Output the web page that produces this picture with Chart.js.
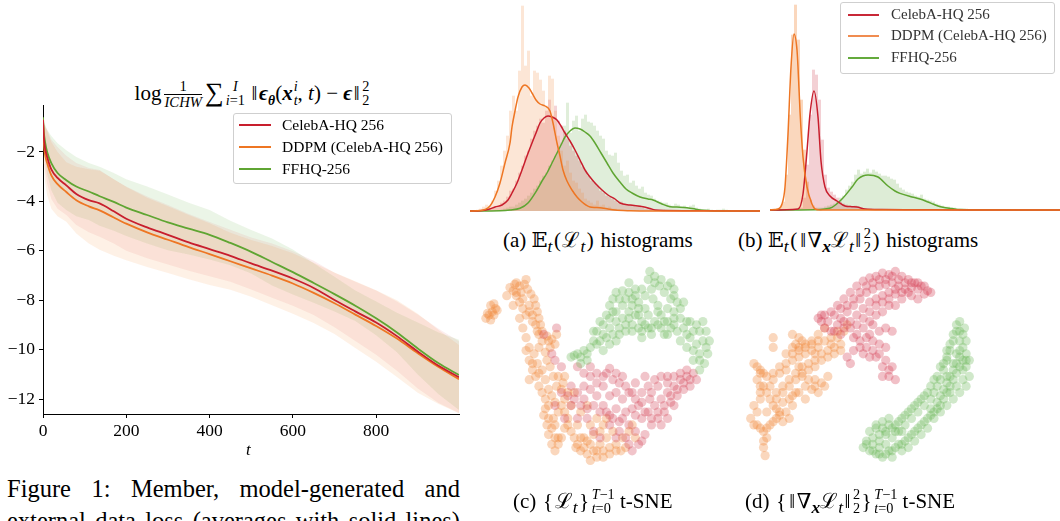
<!DOCTYPE html>
<html>
<head>
<meta charset="utf-8">
<script src="https://cdn.jsdelivr.net/npm/chart.js@4.4.1/dist/chart.umd.min.js"></script>
<style>
  body { margin: 0; width: 1060px; height: 521px; overflow: hidden; background: #fff; position: relative;
         font-family: "Liberation Serif", "DejaVu Serif", serif; color: #000; }
  canvas { position: absolute; }
  .abs { position: absolute; white-space: nowrap; }
  .ss { display: inline-flex; flex-direction: column; vertical-align: 0.6em; font-size: 0.68em; line-height: 0.95; margin-left: 1px; }
  .frac { display: inline-flex; flex-direction: column; vertical-align: 0.62em; font-size: 0.7em; line-height: 1.05; text-align: center; margin: 0 3px; }
  .frac > span:first-child { border-bottom: 1px solid #000; }
  .big { font-size: 1.25em; vertical-align: -0.05em; margin-right: 1px; }
  .m { margin: 0 1.5px; }
  .legend { position: absolute; border: 1px solid #cfcfcf; border-radius: 3px; background: rgba(255,255,255,0.85); }
  .legend .row { position: absolute; white-space: nowrap; }
  .legend .sw { position: absolute; height: 2px; }
  .cap { position: absolute; white-space: nowrap; font-size: 21px; }
  .fig { position: absolute; left: 7px; width: 453px; font-size: 24.5px; line-height: 1; text-align: justify; text-align-last: justify; white-space: nowrap; }
</style>
</head>
<body>

<div class="abs" style="left:0;width:504px;text-align:center;top:78px;font-size:21px">
  log<span class="frac"><span>1</span><span><i>ICHW</i></span></span><span class="big">∑</span><span class="ss"><span><i>I</i></span><span><i>i</i>=1</span></span>
  <span class="m">‖</span><b><i>ϵ</i></b><sub style="font-size:0.65em"><b><i>θ</i></b></sub>(<b><i>x</i></b><span class="ss"><span><i>i</i></span><span><i>t</i></span></span>, <i>t</i>) − <b><i>ϵ</i></b><span class="m">‖</span><span class="ss"><span>2</span><span>2</span></span>
</div>

<canvas id="lossChart" width="470" height="350" style="left:0;top:95px"></canvas>
<div class="abs" style="left:246px;top:440px;font-size:17px"><i>t</i></div>

<div class="legend" style="left:233px;top:113px;width:217px;height:69px;font-size:15.5px">
  <div class="sw" style="left:5px;top:10px;width:32px;background:rgb(200,30,45)"></div>
  <div class="row" style="left:48px;top:2px">CelebA-HQ 256</div>
  <div class="sw" style="left:5px;top:32px;width:32px;background:rgb(238,118,35)"></div>
  <div class="row" style="left:48px;top:24px">DDPM (CelebA-HQ 256)</div>
  <div class="sw" style="left:5px;top:54px;width:32px;background:rgb(95,165,50)"></div>
  <div class="row" style="left:48px;top:46px">FFHQ-256</div>
</div>

<canvas id="histA" width="290" height="215" style="left:470px;top:0"></canvas>
<canvas id="histB" width="290" height="214" style="left:770px;top:0"></canvas>

<div class="legend" style="left:840px;top:2px;width:213px;height:70px;font-size:15px;color:#333">
  <div class="sw" style="left:7px;top:11px;width:31px;background:rgb(200,40,55)"></div>
  <div class="row" style="left:50px;top:3px">CelebA-HQ 256</div>
  <div class="sw" style="left:7px;top:32px;width:31px;background:rgb(240,140,80)"></div>
  <div class="row" style="left:50px;top:24px">DDPM (CelebA-HQ 256)</div>
  <div class="sw" style="left:7px;top:54px;width:31px;background:rgb(100,170,60)"></div>
  <div class="row" style="left:50px;top:46px">FFHQ-256</div>
</div>

<div class="cap" style="left:503px;top:225px">(a) 𝔼<sub><i>t</i></sub><span class="m">(</span>ℒ<sub><i>t</i></sub><span class="m">)</span> histograms</div>
<div class="cap" style="left:738px;top:225px">(b) 𝔼<sub><i>t</i></sub><span class="m">(</span><span class="m">‖</span>∇<sub><b><i>x</i></b></sub>ℒ<sub><i>t</i></sub><span class="m">‖</span><span class="ss"><span>2</span><span>2</span></span><span class="m">)</span> histograms</div>

<canvas id="tsneC" width="260" height="300" style="left:470px;top:220px"></canvas>
<canvas id="tsneD" width="260" height="300" style="left:730px;top:220px"></canvas>

<div class="cap" style="left:513px;top:486px">(c) <span class="m">{</span>ℒ<sub><i>t</i></sub><span class="m">}</span><span class="ss"><span><i>T</i>−1</span><span><i>t</i>=0</span></span> t-SNE</div>
<div class="cap" style="left:745px;top:486px">(d) <span class="m">{</span><span class="m">‖</span>∇<sub><b><i>x</i></b></sub>ℒ<sub><i>t</i></sub><span class="m">‖</span><span class="ss"><span>2</span><span>2</span></span><span class="m">}</span><span class="ss"><span><i>T</i>−1</span><span><i>t</i>=0</span></span> t-SNE</div>

<div class="fig" style="top:477px">Figure 1: Member, model-generated and</div>
<div class="fig" style="top:509px">external data loss (averages with solid lines)</div>

<script>
// --- loss curves over diffusion step t ---
const steps = [0, 2, 5, 10, 20, 35, 56, 80, 110, 136, 170, 200, 250, 300, 350, 400, 450, 500, 550, 600, 650, 700, 750, 800, 850, 900, 950, 999];
const celebaMean = [-0.7, -1.4, -1.85, -2.2, -2.7, -3.05, -3.35, -3.7, -3.95, -4.08, -4.4, -4.7, -5.05, -5.35, -5.66, -5.93, -6.2, -6.51, -6.8, -7.12, -7.5, -7.99, -8.45, -8.9, -9.45, -10.07, -10.65, -11.11];
const ddpmMean = [-0.7, -1.6, -2.1, -2.45, -2.95, -3.3, -3.62, -3.95, -4.2, -4.36, -4.65, -4.9, -5.25, -5.55, -5.85, -6.13, -6.42, -6.71, -7.0, -7.32, -7.7, -8.12, -8.58, -9.04, -9.55, -10.14, -10.7, -11.19];
const ffhqMean = [-0.6, -1.2, -1.6, -2.0, -2.45, -2.85, -3.14, -3.4, -3.6, -3.79, -4.02, -4.25, -4.55, -4.85, -5.1, -5.35, -5.68, -6.04, -6.45, -6.86, -7.3, -7.75, -8.22, -8.73, -9.3, -9.95, -10.55, -11.02];
const celebaStd = [0.15, 0.6, 0.9, 1.1, 1.2, 1.25, 1.2, 1.25, 1.3, 1.35, 1.3, 1.3, 1.25, 1.2, 1.15, 1.1, 1.05, 1.05, 1.1, 1.1, 1.1, 1.1, 1.2, 1.3, 1.4, 1.5, 1.5, 1.45];
const ddpmStd = [0.2, 0.9, 1.1, 1.3, 1.35, 1.3, 1.2, 1.35, 1.5, 1.6, 1.55, 1.48, 1.4, 1.35, 1.3, 1.25, 1.15, 1.15, 1.2, 1.22, 1.22, 1.24, 1.35, 1.45, 1.55, 1.6, 1.5, 1.38];
const ffhqStd = [0.1, 0.3, 0.7, 0.9, 1.1, 1.2, 1.21, 1.2, 1.15, 1.19, 1.17, 1.15, 1.15, 1.13, 1.05, 1.0, 0.9, 0.88, 0.95, 0.91, 0.8, 0.7, 0.62, 0.68, 0.8, 1.05, 1.25, 1.42];
const tTicks = [0, 200, 400, 600, 800];
const lossTicks = [-12, -10, -8, -6, -4, -2];

// --- histograms (bin width 3, counts start at a bin index) ---
const binWidth = 3;
const histAOrange = { start: 2, counts: [1,2,4,6,5,10,20,30,45,60,75,100,115,100,140,205,145,160,115,140,138,131,120,105,135,132,100,75,60,45,50,38,30,28,22,18,12,10,8,6,10,5,6,3,4,2,2,1] };
const histARed = { start: 6, counts: [2,3,4,5,8,10,14,20,22,30,38,45,55,60,72,80,85,92,88,100,111,95,105,90,85,80,72,65,60,55,50,44,40,35,30,28,25,20,18,15,14,12,10,8,9,7,6,6,5,4,5,3,2,3,2,1,1,1,1] };
const histAGreen = { start: 10, counts: [1,2,3,4,4,6,8,10,12,15,18,22,25,30,35,38,45,50,55,62,68,85,108,78,90,95,80,92,96,89,88,85,80,75,72,60,56,55,58,48,40,35,36,28,30,25,22,24,18,16,15,12,10,9,8,8,6,5,7,6,4,5,3,5,6,3,2,1,1,2,1,0,1,1,2,1] };
const histBOrange = { start: 2, counts: [1,3,8,35,95,175,205,170,110,60,28,10,4,2] };
const histBRed = { start: 10, counts: [2,12,45,95,140,135,110,70,35,22,18,15,12,8,6,5,4,3,4,3,2,1,1,1] };
const histBGreen = { start: 15, counts: [1,2,2,3,4,5,6,8,12,14,20,24,28,35,40,36,38,41,37,40,38,36,34,34,33,31,30,26,22,20,18,17,16,14,13,15,11,10,9,8,6,5,4,3,3,2,2,1,1,1,1] };

// kernel density curves [score, density]
const kdeAOrange = [[0,0],[10,0.5],[15,1.5],[20,5],[25,14],[30,28],[35,48],[40,68],[42,84],[45,100],[48,114],[52,124],[55,126],[59,123],[62,118],[66,111],[70,107],[75,105],[80,100],[83,88],[87,68],[90,55],[93,41],[97,30],[102,21],[107,14],[112,9],[116,6],[120,4],[126,3.5],[132,3],[138,2],[145,1],[160,0.3],[180,0],[290,0]];
const kdeARed = [[0,0],[10,0.3],[18,1.5],[25,4],[32,6],[38,11],[42,18],[47,28],[52,41],[57,55],[62,68],[66,78],[70,88],[74,93],[78,95],[82,94],[87,91],[91,85],[95,78],[100,70],[105,61],[110,51],[115,41],[120,34],[125,28],[132,21],[138,16],[145,12],[150,8],[160,6],[173,4.3],[180,2.5],[185,1],[195,0.5],[230,0.3],[290,0]];
const kdeAGreen = [[0,0],[30,0.3],[40,1],[50,2.7],[58,8],[67,21],[72,30],[77,38],[82,48],[87,58],[91,66],[95,74],[100,80],[105,83],[110,82],[115,79],[120,75],[125,68],[131,58],[137,48],[143,38],[150,29],[156,22],[162,18],[170,14],[178,12],[183,11],[192,7],[200,4.3],[210,3.8],[217,3.3],[225,2],[230,1],[240,0.3],[250,0],[290,0]];
const kdeBOrange = [[0,0],[5,0.5],[8,1],[12,6],[15,23],[18,76],[21,143],[24,176],[27,160],[28,143],[30,99],[33,53],[37,23],[42,6],[45,1],[50,0],[290,0]];
const kdeBRed = [[0,0],[28,1],[33,16],[37,59],[40,96],[44,119],[48,93],[51,49],[55,23],[60,14],[67,9],[75,4],[82,3.3],[87,3],[95,1],[112,0.5],[150,0.3],[188,0],[290,0]];
const kdeBGreen = [[0,0],[45,0.3],[55,1],[62,2.7],[72,11],[82,23],[88,31],[98,35],[108,33],[118,24],[125,19],[130,16.6],[142,13],[150,11],[158,8],[163,6],[168,4],[173,2.7],[182,1.5],[190,0.5],[210,0.3],[250,0.1],[290,0]];

// --- t-SNE embeddings [x, y] ---
const tsneLossOrange = [[3.5,29],[4.5,28],[5.5,27],[6.5,26],[6,24.5],[7,26.5],[5,29.5],[4,27.5],[5,25],[6,28],
  [11,19.5],[12.5,18.5],[14,19],[15.5,18.5],[16.5,20],[17.5,21.5],[18.5,23],[19,25],[19.5,27],[20,29],[20.5,31],[19.5,33],[18,30],[16,28],[15,26],[14,24],[13,22],[12,20.5],[14.5,21],[17,25],[18,28],[20,34],[21,36],[22.5,34.5],[24,35.5],[25.5,34],[25,37],[23.5,38],[22,39.5],
  [13,21],[15,23],[17,27],[19,31],[21,33],[23,36],[17,38],[14,29],[12,25],[10,22],[13,18],[16,17],[15,32],[16,35],[20,38],
  [16,39],[17,42],[18,45],[17,48],[19,47],[20,50],[21,52],[22,54],[23,56],[21.5,59],[22.5,62],[23,65],[24,68],[25,70],[26,66],[25,62],[24.5,60],[26,58],[27,56],[28,54],[27,51],[25.5,50],[24.5,47],[23.5,44],[22.5,42],[21,45],[19.5,43],[18.5,40],[26,47],[27.5,49],[29,52],[30,56],[29,60],[28,63],[27,66],[30,64],[32,62],[33,66],[34,69],[35,71],[36,73],[38,72],[37,70],[33,70],[31.5,69],[35,67],[37,65],[39,68],[40,70],[42,69],[41,66],[44,68],[45.5,70],[47,69],[46,66],[48,64],[50,66],[49,62],[43,64],[40,62],[38,60],
  [18,43],[20,46],[22,48],[23,51],[24,53],[25,55],[22,57],[23,60],[24,63],[25,66],[26,68],[28,58],[29,62],[31,66],[32,68],[34,66],[36,68],[38,70],[40,72],[42,71],[44,70],[39,64],[41,60],[36,62],[33,58],[35,56],[31,52],[28,47]];
const tsneLossRed = [[42,44.5],[44,46],[46,47],[43,48],[30,50],[32,52],[34,54],[36,51],[38,53],[40,56],[42,59],[44,57],[46,60],[48,62],[50,59],[52,60],[54,58],[56,56],[58,54],[60,52],[62,50],[64,48],[66,47],[68,46],[69,48],[67,50],[65,51],[63,53],[61,55],[59,58],[57,60],[55,62],[53,65],[51,68],[49,70],[52,52],[54,50],[56,48],[58,47],[60,49],[53,47],[54.5,54],[50,54],[48,52],[46,54],[44,52],[40,50],[42,53],[25,42],[27,44],[30,56],[32,60],[35,60],[37,64],[39,66],[28,60],[25,56],[60,60],[62,56],[58,62],[47,66],[45,64],[42,62],[32,44],[34,46],[21.5,34],[25.5,32],[24,40],[36,47],[38,46],
  [41,46],[45,49],[47,50],[49,52],[51,56],[53,58],[55,60],[57,58],[59,56],[61,53],[63,51],[65,49],[67,48],[62,47],[64,46],[66,45],[60,47],[57,50],[55,52],[52,55],[49,57],[47,58],[45,61],[43,60],[41,58],[39,58],[37,56],[35,57],[33,56],[31,54],[29,53],[27,52],[34,50],[50,64],[52,67],[48,68],[44,66],[50,49],[38,49],[36,44],[40,47]];
const tsneLossGreen = [[30,41],[32,40],[34,39],[36,38],[38,37],[35,42],[33,43],[37,33],[39,30],[41,28],[42,25],[43,23],[44,21],[46,20.5],[48,21],[50,22],[51,24],[52,20],[54,17],[54.5,14.5],[56,16],[57.5,19],[59,21],[61,18],[62,20],[63,24],[60,26],[58,28],[56,30],[54,32],[52,30],[50,28],[48,27],[46,29],[44,30],[42,32],[40,34],[45,34],[47,33],[49,31],[52,33],[55,34],[58,32],[60,30],[62,31],[64,29],[65,32],[67,30],[69,31],[71,30],[72,33],[73,36],[72.5,40],[71.5,43],[70,40],[69,37],[67,35],[66,38],[68,42],[70,45],[57,25],[55.5,23],[53,26],[46,25],[49,25],[42,37],[40,39],[44,36],[60,34],[64,36],[62,27],[52,35],[65,24],[61,23],
  [31,40.5],[33,41],[35,40],[37,36],[38,33],[40,31],[42,29],[43,27],[45,23],[47,23],[49,23],[51,26],[53,22],[55,20],[56,18],[58,17],[60,19],[62,22],[64,26],[62,29],[59,30],[57,31],[55,32],[53,31],[51,32],[49,33],[47,31],[45,32],[43,34],[41,35],[39,36],[66,30],[68,33],[70,33],[71,36],[72,38],[70,42],[68,39],[66,34],[63,33],[61,32],[59,34],[57,27],[54,28],[51,28],[48,29],[44,27],[48,18],[50,20]];
const tsneGradRed = [[104,29],[106,28],[108,27],[110,25],[112,23],[114,21],[116,19],[118,17.5],[120,16.5],[122,16],[124,15],[126,15.5],[128,14.5],[130,16],[132,17],[134,18],[136,19],[138,20.5],[137,21.5],[135,20],[133,19.5],[131,20],[129,19],[127,18],[125,18.5],[123,19],[121,20],[119,21],[117,23],[115,25],[113,27],[111,29],[110,31],[112,32],[114,30],[116,28],[118,26],[120,24],[122,23],[124,22],[126,21],[128,21.5],[130,23],[126,25],[124,27],[122,28],[120,30],[118,32],[116,34],[117,36],[119,38],[121,39],[123,40],[125,42],[127,44],[126,47],[124,47],[128,48],[122,41],[120,34],[123,33],[125,32],[127,33],[118,40],[115,39],[113,41],[114,43],[108,33],[106,32],[105,30],[132,21],[135,23],
  [105,28],[107,30],[109,28],[111,26],[113,25],[115,23],[117,21],[119,19],[121,18],[123,17],[125,17],[127,16],[129,17],[131,18],[133,18],[135,18],[137,19],[139,21],[128,20],[126,23],[124,24],[122,25],[120,27],[118,29],[116,31],[114,32],[112,30],[119,35],[121,36],[123,37],[125,38],[124,44],[126,45],[120,41],[117,38],[115,35],[121,31],[109,33],[111,34],[130,21],[133,22],[128,25]];
const tsneGradOrange = [[84,43],[86,45],[85,48],[87,50],[88,52],[86,54],[84,56],[83,60],[85,62],[87,64],[88,66],[87,69],[87.5,71.5],[89,62],[91,60],[93,61],[95,60],[92,58],[90,56],[89,54],[91,52],[93,50],[95,48],[97,46],[99,44],[101,43],[103,42],[105,40],[107,39],[109,38],[111,37],[110,35],[108,35],[106,36],[104,38],[102,39],[100,40],[98,41],[96,42],[94,43],[92,44],[90,46],[88,47],[86,46],[100,37],[98,35],[96,34],[98,38],[102,36],[104,34],[106,32],[100,50],[102,51],[104,52],[106,50],[107,47],[99,47],[97,52],[95,54],[93,55],[100,54],[103,48],[90,38],[90,35],[96,38],[94,40],[112,33],[113,31],
  [85,44],[87,46],[86,50],[86,52],[85,58],[84,62],[86,63],[87,67],[88,63],[90,61],[92,59],[94,58],[96,56],[91,54],[93,52],[95,50],[97,48],[99,46],[101,45],[103,44],[105,42],[107,41],[109,40],[111,39],[108,37],[104,36],[102,37],[100,38],[98,39],[96,40],[94,45],[92,46],[90,48],[89,50],[98,44],[101,48],[103,50],[105,49],[98,52],[96,53],[99,36],[97,37],[103,40],[110,33],[88,58],[91,57]];
const tsneGradGreen = [[118,69],[119,67],[120,70],[122,71],[124,72],[126,70],[128,69],[130,68],[132,66],[134,64],[136,62],[138,60],[140,58],[142,56],[143,54],[144,52],[145,50],[146,48],[147,46],[148,44],[149,42],[150,40],[149,38],[148,36],[149,34],[149.5,32],[148,30],[147,33],[146,36],[145,39],[144,42],[143,45],[142,48],[141,50],[140,52],[139,54],[137,56],[135,58],[133,60],[131,62],[129,64],[127,66],[125,68],[123,69],[121,68],[123,65],[125,64],[124,61],[122,62],[120,64],[126,60],[128,62],[130,60],[132,58],[134,56],[136,54],[138,52],[140,48],[142,44],[144,47],[146,43],[147,40],[150,44],[151,47],[150,50],[148,52],[146,54],[144,56],[142,58],[140,60],[138,63],[136,65],[134,67],[132,69],[130,70],[127,72],[150,36],[151,42],[144,39],[149,48],
  [119,68],[121,70],[123,71],[125,71],[127,70],[129,68],[131,67],[133,65],[135,63],[137,61],[139,59],[141,57],[142,53],[143,51],[144,49],[145,47],[146,45],[147,43],[148,41],[148,39],[148,33],[147,31],[146,34],[145,37],[144,41],[143,43],[141,47],[139,50],[137,53],[135,55],[133,57],[131,59],[129,61],[127,63],[125,65],[123,67],[121,66],[122,63],[124,63],[126,62],[128,64],[130,64],[149,45],[150,42],[147,50],[145,52],[139,57],[141,55]];

const RED = 'rgb(200,30,45)', ORANGE = 'rgb(238,118,35)', GREEN = 'rgb(95,165,50)';
const serif = '"Liberation Serif", "DejaVu Serif", serif';
const noPlugins = { legend: { display: false }, tooltip: { enabled: false } };

// left panel: mean ± std bands plus mean lines
const series = [
  { mean: celebaMean, std: celebaStd, line: RED, band: 'rgba(214,39,40,0.08)' },
  { mean: ddpmMean, std: ddpmStd, line: ORANGE, band: 'rgba(250,130,30,0.11)' },
  { mean: ffhqMean, std: ffhqStd, line: GREEN, band: 'rgba(90,170,60,0.12)' }
];
const lossSets = [];
series.forEach(s => {
  lossSets.push({ data: steps.map((t, i) => ({ x: t, y: s.mean[i] - s.std[i] })), borderWidth: 0, fill: false, order: 1 });
  lossSets.push({ data: steps.map((t, i) => ({ x: t, y: s.mean[i] + s.std[i] })), borderWidth: 0, fill: '-1', backgroundColor: s.band, order: 1 });
});
series.forEach(s => {
  lossSets.push({ data: steps.map((t, i) => ({ x: t, y: s.mean[i] })), borderColor: s.line, borderWidth: 1.8, fill: false, order: 0, cubicInterpolationMode: 'monotone' });
});

new Chart(document.getElementById('lossChart'), {
  type: 'line',
  data: { datasets: lossSets },
  options: {
    responsive: false, animation: false,
    layout: { padding: { top: 10, right: 11, bottom: 5, left: 0 } },
    plugins: noPlugins,
    elements: { point: { radius: 0 } },
    scales: {
      x: {
        type: 'linear', min: 0, max: 999,
        afterBuildTicks: s => { s.ticks = tTicks.map(v => ({ value: v })); },
        afterFit: s => { s.height = 26; s.paddingLeft = 0; s.paddingRight = 0; },
        grid: { drawOnChartArea: false, tickLength: 4, color: '#000' },
        border: { color: '#000', width: 1 },
        ticks: { font: { family: serif, size: 17.5 }, color: '#000', padding: 3, maxRotation: 0 }
      },
      y: {
        min: -12.6, max: -0.1,
        afterBuildTicks: s => { s.ticks = lossTicks.map(v => ({ value: v })); },
        afterFit: s => { s.width = 43; s.paddingTop = 0; s.paddingBottom = 0; },
        grid: { drawOnChartArea: false, tickLength: 4, color: '#000' },
        border: { color: '#000', width: 1 },
        ticks: { font: { family: serif, size: 17.5 }, color: '#000', padding: 4, callback: v => (v < 0 ? '\u2212' + Math.abs(v) : String(v)) }
      }
    }
  }
});

// histogram panels
function histBars(h, color) {
  return {
    type: 'bar', order: 1, grouped: false, barThickness: 2.3, backgroundColor: color,
    data: h.counts.map((c, i) => ({ x: (h.start + i) * binWidth + binWidth / 2, y: c }))
  };
}
function kdeLine(k, color) {
  return {
    type: 'line', order: 0, borderColor: color, borderWidth: 1.5, pointRadius: 0, fill: false, clip: false,
    cubicInterpolationMode: 'monotone', data: k.map(p => ({ x: p[0], y: p[1] }))
  };
}
function histChart(id, sets, yMax, bottomPad) {
  new Chart(document.getElementById(id), {
    type: 'bar',
    data: { datasets: sets },
    options: {
      responsive: false, animation: false,
      layout: { padding: { top: 0, right: 0, bottom: bottomPad, left: 0 } },
      plugins: noPlugins,
      scales: {
        x: { type: 'linear', display: false, min: 0, max: 290, offset: false },
        y: { display: false, min: 0, max: yMax }
      }
    }
  });
}
histChart('histA', [
  histBars(histAOrange, 'rgba(240,130,50,0.2)'),
  histBars(histARed, 'rgba(200,40,60,0.2)'),
  histBars(histAGreen, 'rgba(100,170,70,0.2)'),
  kdeLine(kdeAOrange, ORANGE), kdeLine(kdeARed, RED), kdeLine(kdeAGreen, GREEN)
], 211, 4);
histChart('histB', [
  histBars(histBOrange, 'rgba(240,130,50,0.32)'),
  histBars(histBRed, 'rgba(200,40,60,0.22)'),
  histBars(histBGreen, 'rgba(100,170,70,0.22)'),
  kdeLine(kdeBOrange, ORANGE), kdeLine(kdeBRed, RED), kdeLine(kdeBGreen, GREEN)
], 210, 4);

// t-SNE panels
function tsneChart(id, xMin, xMax, groups) {
  new Chart(document.getElementById(id), {
    type: 'scatter',
    data: {
      datasets: groups.map(g => ({
        data: g.pts.map(p => ({ x: p[0], y: p[1] })), backgroundColor: g.color, borderWidth: 0, pointRadius: 4.6
      }))
    },
    options: {
      responsive: false, animation: false, layout: { padding: 0 }, plugins: noPlugins,
      scales: { x: { display: false, min: xMin, max: xMax }, y: { display: false, min: 0, max: 90, reverse: true } }
    }
  });
}
tsneChart('tsneC', 0, 78, [
  { pts: tsneLossGreen, color: 'rgba(100,180,80,0.3)' },
  { pts: tsneLossRed, color: 'rgba(210,60,80,0.3)' },
  { pts: tsneLossOrange, color: 'rgba(238,130,50,0.32)' }
]);
tsneChart('tsneD', 78, 156, [
  { pts: tsneGradGreen, color: 'rgba(100,180,80,0.3)' },
  { pts: tsneGradRed, color: 'rgba(210,60,80,0.32)' },
  { pts: tsneGradOrange, color: 'rgba(238,130,50,0.32)' }
]);
</script>
</body>
</html>
